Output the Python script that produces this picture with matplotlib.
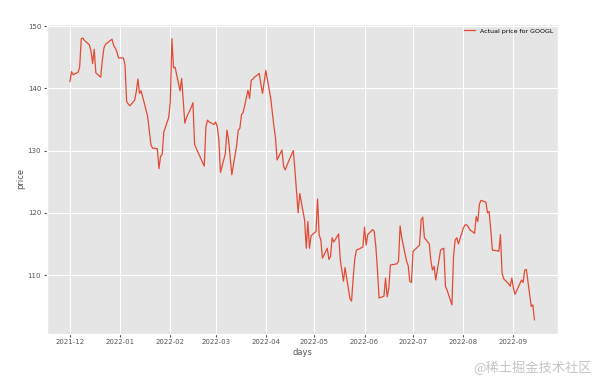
import matplotlib
matplotlib.use("Agg")
import matplotlib.pyplot as plt
import matplotlib.dates as mdates
import pandas as pd

# trading days 2021-12-01 .. 2022-09-14 (NYSE holidays removed)
holidays = ['2021-12-24', '2022-01-17', '2022-02-21', '2022-04-15',
            '2022-05-30', '2022-06-20', '2022-07-04', '2022-09-05']
days = pd.bdate_range('2021-12-01', '2022-09-14')
days = days[~days.isin(pd.to_datetime(holidays))]

# closing price
dec = [141.1, 142.7, 142.2, 142.6, 143.4, 148.0, 148.1, 147.7, 147.0, 146.0,
       144.0, 146.3, 142.5, 141.8, 144.5, 146.5, 147.1, 147.9, 146.9, 146.5,
       145.9, 144.9]
jan = [144.9, 143.8, 137.9, 137.5, 137.2, 138.1, 139.5, 141.5, 139.2, 139.6,
       135.5, 133.2, 131.0, 130.4, 130.3, 127.1, 129.1, 129.4, 133.0, 135.3]
feb = [137.8, 148.0, 143.3, 143.4, 139.6, 141.6, 138.0, 134.4, 135.3,
       137.0, 137.7, 131.0, 130.4, 129.8, 127.5, 133.8, 134.9, 134.6, 134.2]
mar = [134.6, 133.9, 131.8, 126.5, 129.5, 133.3, 131.8, 129.0, 126.1,
       130.8, 133.3, 133.6, 135.8, 136.1, 139.7, 138.4, 141.3, 141.5, 141.8,
       142.4, 140.6, 139.2, 141.0]
apr = [142.9, 138.5, 136.2, 134.0, 132.0, 128.5, 130.1, 127.5, 126.9,
       127.6, 130.0, 126.9, 123.5, 120.0, 123.1, 118.8, 114.3, 118.6, 114.3,
       116.3]
may = [117.0, 122.2, 116.4, 115.7, 112.7, 114.3, 112.5, 113.0, 116.0,
       115.3, 116.6, 112.5, 110.8, 109.0, 111.2, 106.2, 105.8, 109.5, 112.6,
       114.0, 114.5]
jun = [117.7, 114.8, 116.5, 117.3, 117.0, 114.6, 110.8, 106.3, 106.6,
       109.5, 106.5, 107.8, 111.6, 111.8, 112.2, 117.9, 116.0, 112.2, 111.5,
       109.0, 108.8]
jul = [113.8, 114.8, 118.9, 119.3, 116.0, 115.0, 112.3, 110.8, 111.4,
       109.2, 114.0, 114.2, 114.3, 108.2, 107.6, 105.2, 113.0, 115.6, 116.0,
       115.0]
aug = [117.5, 118.0, 118.1, 117.8, 117.3, 116.7, 119.4, 118.6, 121.4,
       122.0, 121.7, 120.0, 120.2, 117.3, 114.0, 113.9, 113.8, 116.5, 110.3,
       109.4, 108.6, 108.2, 109.5]
sep = [107.9, 106.9, 109.2, 108.8, 110.8, 110.9, 104.95, 105.2, 102.8]

price = dec + jan + feb + mar + apr + may + jun + jul + aug + sep

plt.style.use('ggplot')
fig = plt.figure(figsize=(5.99, 3.86), dpi=100)
ax = fig.add_axes([0.078, 0.135, 0.853, 0.803])

ax.plot(days, price, color='#E24A33', linewidth=0.9, label='Actual price for GOOGL')

ax.xaxis.set_major_locator(mdates.MonthLocator())
ax.xaxis.set_major_formatter(mdates.DateFormatter('%Y-%m'))
ax.tick_params(labelsize=5, length=2, pad=2)
ax.set_xlabel('days', fontsize=6, labelpad=2)
ax.set_ylabel('price', fontsize=6, labelpad=2)
ax.legend(loc='upper right', bbox_to_anchor=(1.0, 1.0), fontsize=4.5,
          frameon=False, borderaxespad=0.3, handlelength=1.8)

fig.text(0.988, 0.047, '@稀土掘金技术社区', ha='right', va='center', fontsize=9.5,
         color='#c4c4c4', family=['Noto Sans CJK SC', 'DejaVu Sans'])

fig.savefig('out.png', dpi=100)
